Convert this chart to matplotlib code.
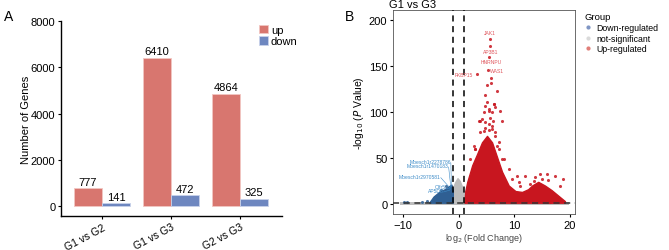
import matplotlib
matplotlib.use("Agg")
import matplotlib.pyplot as plt
import matplotlib.transforms as mtransforms
from matplotlib.lines import Line2D

plt.rcParams["font.family"] = ["Liberation Sans", "DejaVu Sans"]

# ---- panel A data ----
comparisons = ["G1 vs G2", "G1 vs G3", "G2 vs G3"]
up_counts = [777, 6410, 4864]
down_counts = [141, 472, 325]

# ---- panel B data ----
# dense point clouds, as (x, upper envelope) pairs
up_env_x = [1.05, 1.2, 1.55, 2.44, 3.3, 4.2, 5.1, 6.0, 6.9, 7.8, 9.0, 10.2, 11.4, 12.5, 13.2, 14.3, 15.5, 16.7, 17.9, 19.1]
up_env_y = [1.3, 14, 24, 42, 54, 67, 74, 67, 51, 35, 20, 14, 13, 16, 20, 24, 20, 15, 9, 3]
ns_env_x = [-1.4, -1.0, -0.6, -0.2, 0.2, 0.6, 1.0, 1.1]
ns_env_y = [4, 18, 24, 28, 25, 19, 12, 3]
down_env_x = [-5.3, -4.5, -3.5, -2.5, -1.8, -1.3, -1.05]
down_env_y = [1.3, 8, 13, 16, 19, 21, 16]
ns_band_x = [-10.6, 19.8]

# scattered outliers
up_pts_x = [5.6, 5.7, 5.4, 5.2, 3.3, 5.9, 5.1, 5.8, 6.9, 4.8, 5.1, 6.3, 6.6, 4.8, 5.4, 6.0, 7.5, 5.7, 3.75,
            4.2, 6.1, 7.8, 5.4, 4.8, 4.5, 6.0, 6.6, 3.0, 7.2, 3.3, 7.8, 10.5, 12.0, 13.75, 14.6, 15.8, 17.3, 18.8, 16.4,
            3.6, 4.5, 5.4, 6.3, 3.9, 3.0, 7.2, 8.1, 9.0, 9.6, 2.1, 5.4, 6.0, 4.8, 6.6, 6.9, 2.7,
            11.0, 12.8, 15.0, 16.0, 18.2, 10.8, 13.5]
up_pts_y = [180, 172, 160, 146, 141, 136.6, 129, 132, 123, 118, 110.5, 108.7, 105, 107, 101, 99.6, 101, 94, 90.6,
            92.4, 90.6, 90.6, 87, 83, 79.7, 81.5, 74, 60, 60, 49, 49, 30.8, 30, 29, 32.6, 32.6, 30.8, 27, 1.8,
            90.5, 99.6, 103, 108.7, 78, 60, 67, 49, 38, 27, 49, 80, 85, 89, 78, 63, 63,
            20, 22, 27, 26, 20, 24, 25]
down_pts_x = [-9.8, -9.2, -6.5, -5.6, -4.3, -3.2, -2.2]
down_pts_y = [1.6, 2.6, 2.0, 3.0, 7.0, 15.0, 20.0]

up_labels = ["JAK1", "AP3B1", "HNRNPU", "WAS1", "FKBP15"]
up_label_x = [5.6, 5.7, 5.9, 5.7, 2.6]
up_label_y = [186, 166, 155, 145, 141]
down_labels = ["Mbesch1r2278786", "Mbesch1r1470183", "Mbesch1r2970581", "Olfr5", "AP5D8"]
down_label_x = [-1.4, -1.8, -3.2, -2.3, -2.7]
down_label_y = [46, 41.6, 30, 18.5, 14.5]
down_target_x = [-1.3, -1.4, -1.5, -1.4, -1.6]
down_target_y = [19, 18, 17, 16, 15]

UP_BAR = "#D8766F"
DOWN_BAR = "#6E87C0"
RED = "#C8161F"
BLUE = "#2F5F93"
GREY = "#BDBDBD"

fig = plt.figure(figsize=(6.69, 2.51), dpi=100)

# ================= panel A =================
axA = fig.add_axes([0.0912, 0.135, 0.330, 0.777])
width = 0.406
xs = list(range(len(comparisons)))
axA.bar([x - width / 2 for x in xs], up_counts, width, color=UP_BAR, edgecolor="#F2C6C2", linewidth=0.6, label="up")
axA.bar([x + width / 2 for x in xs], down_counts, width, color=DOWN_BAR, edgecolor="#C8D2EA", linewidth=0.6, label="down")
for x, u, d in zip(xs, up_counts, down_counts):
    axA.text(x - width / 2, u + 60, str(u), ha="center", va="bottom", fontsize=8)
    axA.text(x + width / 2, d + 60, str(d), ha="center", va="bottom", fontsize=8)
axA.set_xlim(-0.594, 2.609)
axA.set_ylim(-430, 8000)
axA.set_yticks([0, 2000, 4000, 6000, 8000])
axA.set_xticks(xs)
axA.set_xticklabels(comparisons, rotation=28, ha="right", rotation_mode="anchor", fontsize=7.5)
shift = mtransforms.ScaledTranslation(6 / 100, 0, fig.dpi_scale_trans)
for lab in axA.get_xticklabels():
    lab.set_transform(lab.get_transform() + shift)
axA.tick_params(axis="x", length=2, pad=2)
axA.tick_params(axis="y", labelsize=8, length=2, pad=2)
axA.set_ylabel("Number of Genes", fontsize=8, labelpad=0)
for s in ["top", "right"]:
    axA.spines[s].set_visible(False)
axA.spines["left"].set_linewidth(1.0)
axA.spines["bottom"].set_linewidth(1.0)
legA = axA.legend(loc="upper left", bbox_to_anchor=(0.86, 1.02), frameon=False, fontsize=8,
                  handlelength=0.8, handleheight=0.8, handletextpad=0.3, labelspacing=0.1, borderpad=0.2)
fig.text(0.006, 0.915, "A", fontsize=10)

# ================= panel B =================
axB = fig.add_axes([0.5874, 0.1434, 0.272, 0.8127])
axB.fill_between(ns_band_x, [-0.8, -0.8], [1.8, 1.8], color=GREY, lw=0, zorder=1)
axB.fill_between(ns_env_x, [1.3] * len(ns_env_x), ns_env_y, color=GREY, lw=1, edgecolor=GREY, zorder=1)
axB.fill_between(down_env_x, [1.3] * len(down_env_x), down_env_y, color=BLUE, lw=1, edgecolor=BLUE, zorder=2)
axB.fill_between(up_env_x, [1.3] * len(up_env_x), up_env_y, color=RED, lw=1, edgecolor=RED, zorder=2)
axB.scatter(up_pts_x, up_pts_y, s=5, color=RED, alpha=0.85, lw=0, zorder=3)
axB.scatter(down_pts_x, down_pts_y, s=5, color=BLUE, alpha=0.85, lw=0, zorder=3)

axB.axvline(-1, color="black", ls=(0, (4, 3)), lw=1.1, zorder=4)
axB.axvline(1, color="black", ls=(0, (4, 3)), lw=1.1, zorder=4)
axB.axhline(1.3, color="#333333", ls=(0, (4, 3)), lw=1.1, zorder=4)

for lab, tx, ty in zip(up_labels, up_label_x, up_label_y):
    ha = "right" if lab == "FKBP15" else ("left" if lab == "WAS1" else "center")
    axB.text(tx, ty, lab, fontsize=3.6, color="#E0575E", ha=ha, va="center", zorder=5)
for lab, tx, ty, px, py in zip(down_labels, down_label_x, down_label_y, down_target_x, down_target_y):
    axB.text(tx, ty, lab, fontsize=3.6, color="#3E8CC8", ha="right", va="center", zorder=5)
    axB.plot([tx, px], [ty - 1.5, py], color="#3E8CC8", lw=0.4, zorder=5)

axB.set_xlim(-11.8, 20.9)
axB.set_ylim(-11, 211)
axB.set_xticks([-10, 0, 10, 20])
axB.set_yticks([0, 50, 100, 150, 200])
axB.tick_params(labelsize=8, length=2, pad=2)
for s in axB.spines.values():
    s.set_linewidth(0.6)
    s.set_color("#555555")
axB.set_xlabel("log$_2$ (Fold Change)", fontsize=6.5, color="#444444", labelpad=1)
axB.set_ylabel("-log$_{10}$ ($P$ Value)", fontsize=7.5, labelpad=2)
axB.set_title("G1 vs G3", fontsize=8, loc="left", pad=2, x=-0.02)

handles = [
    Line2D([], [], ls="", marker="o", ms=2, color="#7F95C4"),
    Line2D([], [], ls="", marker="o", ms=2, color="#DADADA"),
    Line2D([], [], ls="", marker="o", ms=2, color="#E17E78"),
]
legB = axB.legend(handles, ["Down-regulated", "not-significant", "Up-regulated"], title="Group",
                  loc="upper left", bbox_to_anchor=(1.02, 1.02), frameon=False, fontsize=6.3,
                  title_fontsize=6.8, handlelength=0.8, handletextpad=0.5, labelspacing=0.2, borderpad=0.2)
legB._legend_box.align = "left"
fig.text(0.515, 0.915, "B", fontsize=10)

fig.savefig("out.png", dpi=100)
